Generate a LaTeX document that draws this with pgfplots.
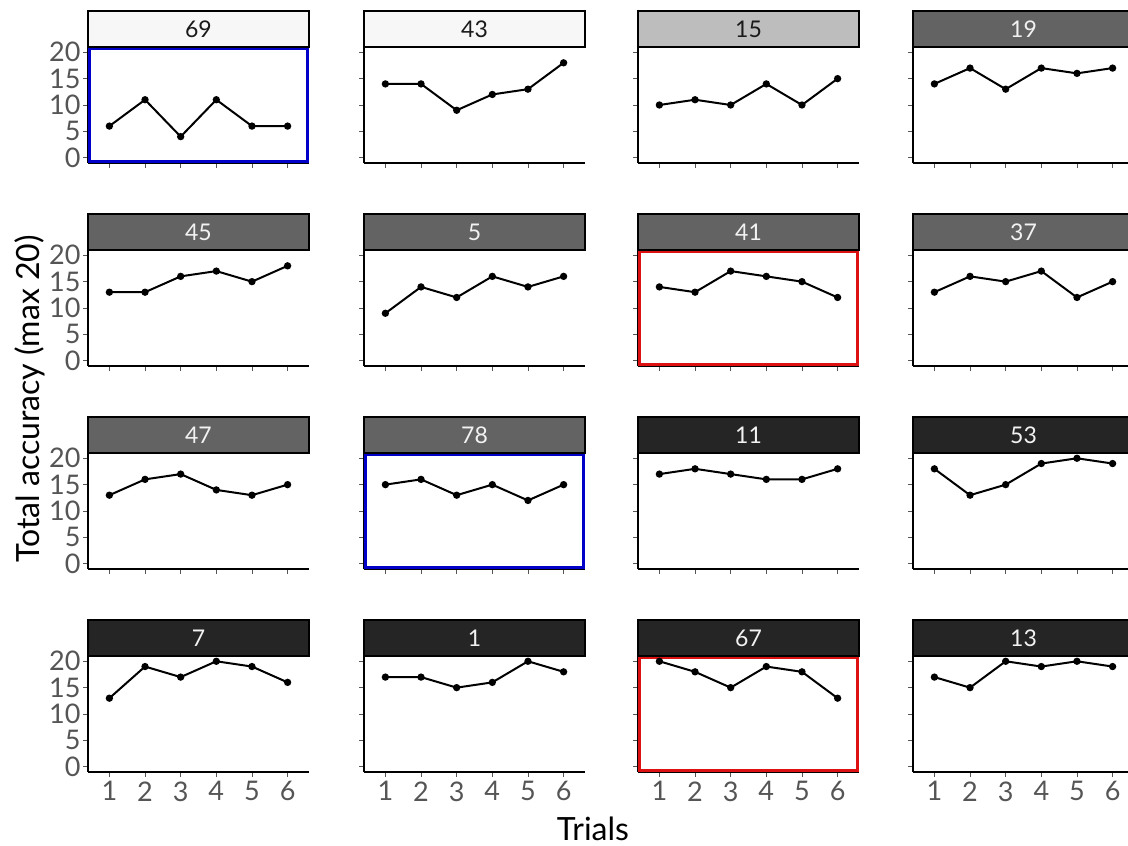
\documentclass[border=0pt]{standalone}
\usepackage{pgfplots}
\pgfplotsset{compat=1.18}
\usepackage{fontspec}
\setmainfont{Lato}
\definecolor{sLight}{HTML}{F7F7F7}
\definecolor{sMid}{HTML}{BDBDBD}
\definecolor{sGray}{HTML}{636363}
\definecolor{sDark}{HTML}{252525}
\definecolor{bBlue}{HTML}{0000C8}
\definecolor{bRed}{HTML}{DD1111}
\definecolor{tickgray}{HTML}{555555}
\definecolor{tWhite}{HTML}{F2F2F2}
\definecolor{tBlack}{HTML}{1A1A1A}
\pgfplotsset{
  panel/.style={
    width=221pt, height=116pt, scale only axis,
    xmin=0.4, xmax=6.6, ymin=-1, ymax=21,
    xtick={1,2,3,4,5,6}, ytick={0,5,10,15,20},
    axis x line*=bottom, axis y line*=left,
    axis line style={-, black, line width=1.2pt},
    tick style={tickgray, line width=0.9pt},
    tick align=outside, major tick length=5pt,
    /pgf/number format/assume math mode=true,
    ticklabel style={font=\fontsize{27}{30}\selectfont, text=tickgray},
    xticklabel style={yshift=-1pt},
    yticklabel style={xshift=1pt},
    clip=false,
  },
  noxl/.style={xticklabels={}},
  noyl/.style={yticklabels={}},
}
% #1 x left, #2 y top, #3 label, #4 strip colour, #5 text colour, #6 border colour, #7 coords, #8 extra options
\newcommand\panel[8]{%
\begin{axis}[panel, at={(#1pt,-#2pt)}, anchor=north west, #8]
\addplot[black, line width=2pt, mark=*, mark size=2.6pt] coordinates {#7};
\path[draw=#6, line width=3pt] ([shift={(1.5pt,1.5pt)}]rel axis cs:0,0) rectangle ([shift={(-1.5pt,-1.5pt)}]rel axis cs:1,1);
\draw[fill=#4, draw=black, line width=1.2pt] (rel axis cs:0,1) rectangle ([yshift=36pt]rel axis cs:1,1);
\node[text=#5, font=\fontsize{23}{26}\selectfont, anchor=center] at ([yshift=18pt]rel axis cs:0.5,1) {#3};
\end{axis}}
\begin{document}
\begin{tikzpicture}
\useasboundingbox (0,0) rectangle (1128pt,-846pt);
% row 1
\panel{88}{47}{69}{sLight}{tBlack}{bBlue}{(1,6)(2,11)(3,4)(4,11)(5,6)(6,6)}{noxl}
\panel{364}{47}{43}{sLight}{tBlack}{none}{(1,14)(2,14)(3,9)(4,12)(5,13)(6,18)}{noxl,noyl}
\panel{638}{47}{15}{sMid}{tBlack}{none}{(1,10)(2,11)(3,10)(4,14)(5,10)(6,15)}{noxl,noyl}
\panel{913}{47}{19}{sGray}{tWhite}{none}{(1,14)(2,17)(3,13)(4,17)(5,16)(6,17)}{noxl,noyl}
% row 2
\panel{88}{250}{45}{sGray}{tWhite}{none}{(1,13)(2,13)(3,16)(4,17)(5,15)(6,18)}{noxl}
\panel{364}{250}{5}{sGray}{tWhite}{none}{(1,9)(2,14)(3,12)(4,16)(5,14)(6,16)}{noxl,noyl}
\panel{638}{250}{41}{sGray}{tWhite}{bRed}{(1,14)(2,13)(3,17)(4,16)(5,15)(6,12)}{noxl,noyl}
\panel{913}{250}{37}{sGray}{tWhite}{none}{(1,13)(2,16)(3,15)(4,17)(5,12)(6,15)}{noxl,noyl}
% row 3
\panel{88}{453}{47}{sGray}{tWhite}{none}{(1,13)(2,16)(3,17)(4,14)(5,13)(6,15)}{noxl}
\panel{364}{453}{78}{sGray}{tWhite}{bBlue}{(1,15)(2,16)(3,13)(4,15)(5,12)(6,15)}{noxl,noyl}
\panel{638}{453}{11}{sDark}{tWhite}{none}{(1,17)(2,18)(3,17)(4,16)(5,16)(6,18)}{noxl,noyl}
\panel{913}{453}{53}{sDark}{tWhite}{none}{(1,18)(2,13)(3,15)(4,19)(5,20)(6,19)}{noxl,noyl}
% row 4
\panel{88}{656}{7}{sDark}{tWhite}{none}{(1,13)(2,19)(3,17)(4,20)(5,19)(6,16)}{}
\panel{364}{656}{1}{sDark}{tWhite}{none}{(1,17)(2,17)(3,15)(4,16)(5,20)(6,18)}{noyl}
\panel{638}{656}{67}{sDark}{tWhite}{bRed}{(1,20)(2,18)(3,15)(4,19)(5,18)(6,13)}{noyl}
\panel{913}{656}{13}{sDark}{tWhite}{none}{(1,17)(2,15)(3,20)(4,19)(5,20)(6,19)}{noyl}
\node[rotate=90, font=\fontsize{32}{36}\selectfont, text=black] at (30pt,-399pt) {Total accuracy (max 20)};
\node[font=\fontsize{32}{36}\selectfont, text=black] at (593pt,-829pt) {Trials};
\end{tikzpicture}
\end{document}
